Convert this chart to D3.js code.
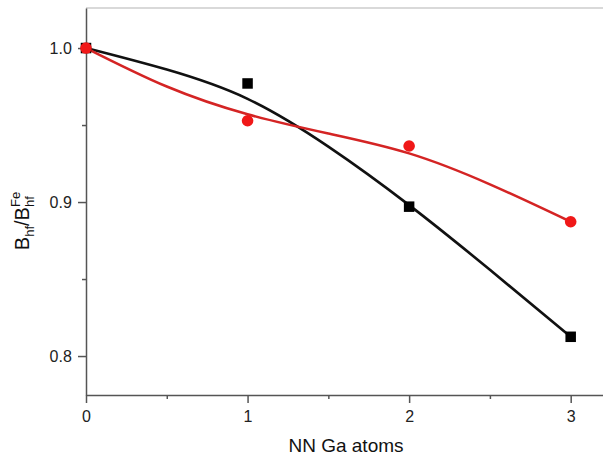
<!DOCTYPE html>
<html>
<head>
<meta charset="utf-8">
<script src="https://cdn.jsdelivr.net/npm/d3@7"></script>
<style>
  body { margin: 0; background: #fff; }
  svg { display: block; font-family: "Liberation Sans", Arial, sans-serif; }
</style>
</head>
<body>
<svg id="chart" width="603" height="458"></svg>
<script>
// measured points
const nnGa = [0, 1, 2, 3];
const blackVals = [1.0, 0.977, 0.897, 0.8125];
const redVals = [1.0, 0.9528, 0.9364, 0.8872];

// fit curves
const fitX = [0, 0.5, 1, 1.5, 2, 2.5, 3];
const blackFitY = [1.0, 0.986, 0.967, 0.936, 0.898, 0.856, 0.8125];
const redFitY = [1.0, 0.975, 0.957, 0.9445, 0.9316, 0.9115, 0.8872];

const xMajor = [0, 1, 2, 3];
const xMinor = [0.5, 1.5, 2.5];
const yMajor = [0.8, 0.9, 1.0];
const yMinor = [0.85, 0.95];

const svg = d3.select("#chart");
const mLeft = 86, mTop = 8, mRight = 603, mBottom = 395;

const x = d3.scaleLinear().domain([0, 3.2]).range([mLeft, mRight]);
const y = d3.scaleLinear().domain([0.7747, 1.026]).range([mBottom, mTop]);

const axisColor = "#555";

// top frame line
svg.append("line")
  .attr("x1", mLeft).attr("x2", mRight)
  .attr("y1", mTop).attr("y2", mTop)
  .attr("stroke", "#ccc").attr("stroke-width", 1.5);

// x axis
const xAxis = svg.append("g").attr("transform", `translate(0,${mBottom})`);
xAxis.call(d3.axisBottom(x).tickValues(xMajor).tickSize(8).tickSizeOuter(0)
  .tickFormat(d3.format("d")));
xAxis.append("g").call(d3.axisBottom(x).tickValues(xMinor).tickSize(4).tickFormat(""))
  .select(".domain").remove();

// y axis
const yAxis = svg.append("g").attr("transform", `translate(${mLeft},0)`);
yAxis.call(d3.axisLeft(y).tickValues(yMajor).tickSize(8).tickSizeOuter(0)
  .tickFormat(d3.format(".1f")));
yAxis.append("g").call(d3.axisLeft(y).tickValues(yMinor).tickSize(4).tickFormat(""))
  .select(".domain").remove();

svg.selectAll(".domain, .tick line")
  .attr("stroke", axisColor).attr("stroke-width", 1.5);
xAxis.selectAll(".tick text").attr("font-size", 16).attr("fill", "#222").attr("dy", "1.0em");
yAxis.selectAll(".tick text").attr("font-size", 16).attr("fill", "#222").attr("dx", "-0.2em");

// x label
svg.append("text")
  .attr("x", 346).attr("y", 452)
  .attr("text-anchor", "middle")
  .attr("font-size", 19).attr("fill", "#111")
  .text("NN Ga atoms");

// y label: B_hf / B_hf^Fe
const yl = svg.append("g");
let cx = 0;
function piece(str, size, dy) {
  const t = yl.append("text").attr("x", cx).attr("y", dy)
    .attr("font-size", size).attr("fill", "#111").text(str);
  const w = t.node().getComputedTextLength();
  return { t, w };
}
let p = piece("B", 20, 0); cx += p.w;
p = piece("hf", 13, 5); cx += p.w;
p = piece("/B", 20, 0); cx += p.w;
const sub = piece("hf", 13, 5);
const sup = piece("Fe", 13, -9);
cx += Math.max(sub.w, sup.w);
yl.attr("transform", `translate(29,${221 + cx / 2}) rotate(-90)`);

// fit curves
const line = d3.line().x(d => x(d[0])).y(d => y(d[1])).curve(d3.curveNatural);
svg.append("path")
  .datum(d3.zip(fitX, blackFitY))
  .attr("d", line).attr("fill", "none")
  .attr("stroke", "#111").attr("stroke-width", 2.6);
svg.append("path")
  .datum(d3.zip(fitX, redFitY))
  .attr("d", line).attr("fill", "none")
  .attr("stroke", "#d42424").attr("stroke-width", 2.6);

// markers
const s = 10.5;
svg.selectAll("rect.sq")
  .data(d3.zip(nnGa, blackVals))
  .join("rect").attr("class", "sq")
  .attr("x", d => x(d[0]) - s / 2).attr("y", d => y(d[1]) - s / 2)
  .attr("width", s).attr("height", s).attr("fill", "#000");
svg.selectAll("circle.dot")
  .data(d3.zip(nnGa, redVals))
  .join("circle").attr("class", "dot")
  .attr("cx", d => x(d[0])).attr("cy", d => y(d[1]))
  .attr("r", 5.8).attr("fill", "#f01818");
</script>
</body>
</html>
